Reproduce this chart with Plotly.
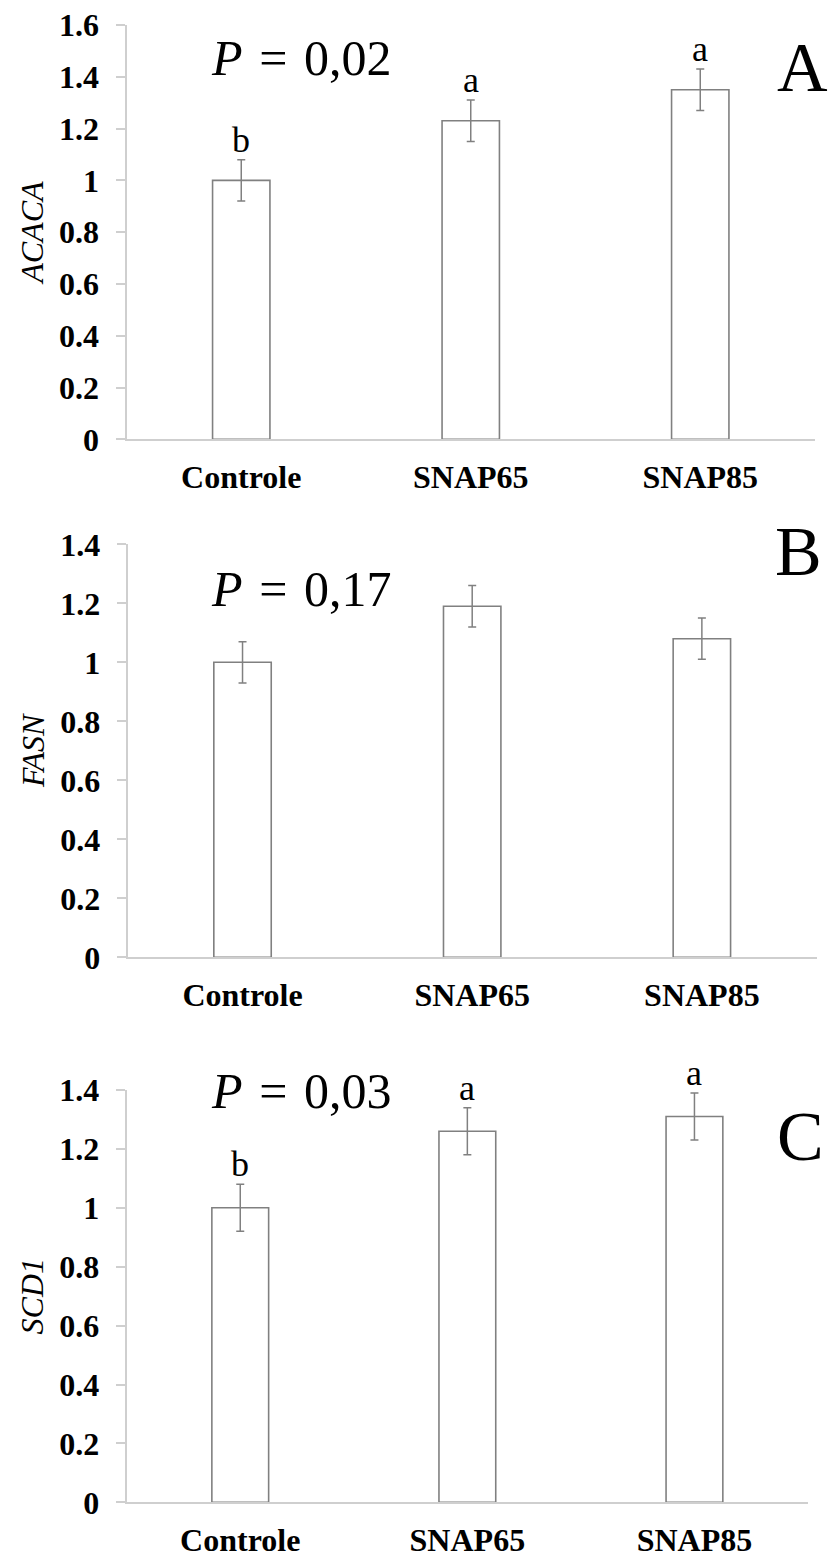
import plotly.graph_objects as go

# ---------------- data ----------------
categories = ["Controle", "SNAP65", "SNAP85"]

acaca_mean = [1.00, 1.23, 1.35]
acaca_err = [0.08, 0.08, 0.08]
acaca_letters = ["b", "a", "a"]

fasn_mean = [1.00, 1.19, 1.08]
fasn_err = [0.07, 0.07, 0.07]

scd1_mean = [1.00, 1.26, 1.31]
scd1_err = [0.08, 0.08, 0.08]
scd1_letters = ["b", "a", "a"]

panel_titles = ["ACACA", "FASN", "SCD1"]
panel_tags = ["A", "B", "C"]
p_values = ["0,02", "0,17", "0,03"]
y_max = [1.6, 1.4, 1.4]

# ---------------- layout helpers (pixel geometry) ----------------
W, H = 831, 1558
# (left, right, top, bottom) of each plot area in pixels
boxes = [
    (126.5, 815.0, 25.0, 439.3),
    (127.7, 816.7, 544.3, 957.3),
    (126.7, 808.0, 1090.0, 1502.3),
]

SERIF = "Liberation Serif, Times New Roman, serif"
GRAY = "#808080"
AXIS_GRAY = "#cfcfcf"
HAIR = "\u200a"

fig = go.Figure()

means = [acaca_mean, fasn_mean, scd1_mean]
errs = [acaca_err, fasn_err, scd1_err]
letters = [acaca_letters, None, scd1_letters]

annotations = []
layout_axes = {}
for i in range(3):
    sfx = "" if i == 0 else str(i + 1)
    xa, ya = "x" + sfx, "y" + sfx
    fig.add_trace(go.Bar(
        x=categories, y=means[i], xaxis=xa, yaxis=ya,
        width=0.25,
        marker=dict(color="white", line=dict(color=GRAY, width=1.6)),
        error_y=dict(type="data", array=errs[i], color=GRAY, thickness=1.5, width=4),
        showlegend=False, hoverinfo="skip",
    ))
    l, r, t, b = boxes[i]
    layout_axes["xaxis" + sfx] = dict(
        domain=[l / W, r / W], anchor=ya, automargin=False,
        type="category", range=[-0.5, 2.5],
        showline=True, linecolor=AXIS_GRAY, linewidth=2,
        showgrid=False, zeroline=False, ticks="",
        tickfont=dict(family=SERIF, size=32, color="black", weight="bold"),
        ticklabelstandoff=8,
    )
    layout_axes["yaxis" + sfx] = dict(
        domain=[1 - b / H, 1 - t / H], anchor=xa, automargin=False,
        range=[0, y_max[i]], dtick=0.2, tick0=0,
        showline=True, linecolor=AXIS_GRAY, linewidth=2,
        showgrid=False, zeroline=False,
        ticks="outside", ticklen=9, tickwidth=1.5, tickcolor=AXIS_GRAY,
        tickfont=dict(family=SERIF, size=32, color="black", weight="bold"),
        ticklabelstandoff=10,
        title=dict(text="<i>" + panel_titles[i] + "</i>",
                   font=dict(family=SERIF, size=32, color="black"),
                   standoff=6),
    )
    # significance letters
    if letters[i] is not None:
        for c, m, e, lt in zip(categories, means[i], errs[i], letters[i]):
            annotations.append(dict(
                x=c, y=m + e, xref=xa, yref=ya, text=lt, showarrow=False,
                yanchor="bottom", yshift=-2,
                font=dict(family=SERIF, size=36, color="black"),
            ))
    # P value
    annotations.append(dict(
        x=209 / W, y=1 - [58, 589, 1091][i] / H, xref="paper", yref="paper",
        xanchor="left", yanchor="middle", showarrow=False,
        text="<i>P</i> " + HAIR + "=" + HAIR + " " + p_values[i],
        font=dict(family=SERIF, size=50, color="black"),
    ))
    # panel tag
    annotations.append(dict(
        x=[802.5, 798.7, 800][i] / W, y=1 - [68, 551, 1136.5][i] / H,
        xref="paper", yref="paper", xanchor="center", yanchor="middle",
        showarrow=False, text=panel_tags[i],
        font=dict(family=SERIF, size=70, color="black"),
    ))

fig.update_layout(
    width=W, height=H,
    margin=dict(l=0, r=0, t=0, b=0, pad=0),
    paper_bgcolor="white", plot_bgcolor="white",
    annotations=annotations,
    hovermode=False,
    **layout_axes,
)

fig.write_html(
    "out.html",
    config={"displayModeBar": False},
    post_script="document.body.style.margin='0';document.body.style.overflow='hidden';",
)
